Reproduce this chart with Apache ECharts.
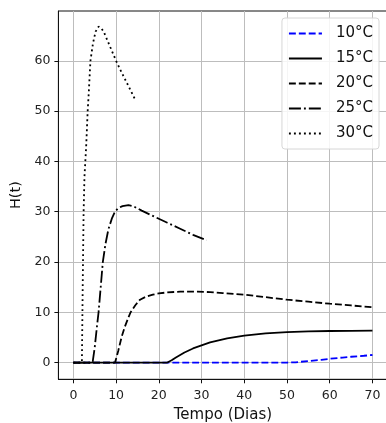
<!DOCTYPE html>
<html>
<head>
<meta charset="utf-8">
<script src="https://cdn.jsdelivr.net/npm/echarts@6/dist/echarts.min.js"></script>
<style>html,body{margin:0;padding:0;background:#fff}#c{width:386px;height:423px}</style>
</head>
<body>
<div id="c"></div>
<script>
const seriesNames = ['10°C', '15°C', '20°C', '25°C', '30°C'];
const xTicks = [0, 10, 20, 30, 40, 50, 60, 70];
const yTicks = [0, 10, 20, 30, 40, 50, 60];

const h10 = [[0,0],[10,0],[20,0],[30,0],[40,0],[50,0],[52,0.05],[55,0.3],[58,0.55],[60,0.75],[63,1.0],[65,1.15],[68,1.35],[70,1.5]];
const h15 = [[0,0],[10,0],[20,0],[22,0],[23,0.45],[24,1.0],[25,1.5],[26,2.0],[28,2.8],[30,3.4],[32,4.0],[34,4.4],[36,4.8],[40,5.35],[45,5.8],[50,6.05],[55,6.2],[60,6.27],[65,6.3],[70,6.33]];
const h20 = [[0,0],[5,0],[9.75,0],[10.5,2.3],[11.3,5.1],[12,7],[13,9.2],[13.4,10],[14.5,11.4],[15.6,12.5],[17,13.1],[18.6,13.5],[20,13.75],[22,13.95],[25,14.1],[29,14.1],[32,14.0],[35,13.8],[40,13.5],[45,13.0],[50,12.5],[55,12.1],[60,11.7],[65,11.35],[70,11.0]];
const h25 = [[0,0],[2,0],[4.5,0],[5,3],[5.5,7],[5.9,10],[6.4,15],[6.9,20],[7.5,23.5],[8.2,26.5],[9,28.6],[9.75,30],[10.5,30.7],[11.5,31.1],[12.9,31.3],[14,31.1],[16,30.2],[18,29.4],[20,28.6],[22,27.8],[25,26.6],[28,25.4],[31.2,24.3]];
const h30 = [[0,0],[1,0],[2,0],[2.2,16],[2.4,30],[2.6,37],[3.0,43],[3.35,50],[3.6,53.5],[4.0,60],[4.6,63.5],[5.2,65.8],[5.9,66.8],[6.5,66.5],[7.1,65.8],[8,64],[8.6,62.8],[9,62],[10,60],[11,58.2],[12,56.5],[13,54.8],[14.5,52.2]];

const fontFam = 'DejaVu Sans';
const chart = echarts.init(document.getElementById('c'), null, {renderer: 'canvas'});

function mk(name, data, color, dash) {
  return {
    name: name, type: 'line', data: data, symbol: 'none', smooth: false,
    lineStyle: {color: color, width: 1.8, type: dash, cap: 'butt'},
    itemStyle: {color: color},
    animation: false
  };
}

chart.setOption({
  animation: false,
  grid: {left: 58.4, top: 11, width: 329, height: 368.3, containLabel: false, outerBoundsMode: 'none',
         show: true, borderColor: '#111', borderWidth: 1, backgroundColor: 'transparent'},
  xAxis: {
    type: 'value', min: -3.5, max: 73.5,
    name: 'Tempo (Dias)', nameLocation: 'middle', nameGap: 28,
    nameTextStyle: {fontFamily: fontFam, fontSize: 15, color: '#111'},
    axisLine: {show: true, onZero: false, lineStyle: {color: '#111', width: 1}},
    axisTick: {show: true, inside: false, length: 4, lineStyle: {color: '#111'}, customValues: xTicks},
    axisLabel: {fontFamily: fontFam, fontSize: 12.5, color: '#222', margin: 10, customValues: xTicks},
    splitLine: {show: true, lineStyle: {color: '#bdbdbd', width: 1}}
  },
  yAxis: {
    type: 'value', min: -3.33, max: 69.9,
    name: 'H(t)', nameLocation: 'middle', nameGap: 28, nameRotate: 90,
    nameTextStyle: {fontFamily: fontFam, fontSize: 14.5, color: '#111'},
    axisLine: {show: true, onZero: false, lineStyle: {color: '#111', width: 1}},
    axisTick: {show: true, inside: false, length: 4, lineStyle: {color: '#111'}, customValues: yTicks},
    axisLabel: {fontFamily: fontFam, fontSize: 12.5, color: '#222', margin: 8, customValues: yTicks},
    splitLine: {show: true, lineStyle: {color: '#bdbdbd', width: 1}}
  },
  legend: {
    orient: 'vertical', right: 7, top: 18,
    data: seriesNames,
    itemWidth: 33, itemHeight: 14, itemGap: 10,
    padding: [8, 6, 8, 6],
    backgroundColor: 'rgba(255,255,255,0.85)',
    borderColor: '#d6d6d6', borderWidth: 1, borderRadius: 3,
    itemStyle: {opacity: 0},
    textStyle: {fontFamily: fontFam, fontSize: 15, color: '#111', padding: [0, 0, 0, 9], lineHeight: 15}
  },
  series: [
    mk(seriesNames[0], h10, '#0000ff', [6.9, 3]),
    mk(seriesNames[1], h15, '#000000', 'solid'),
    mk(seriesNames[2], h20, '#000000', [6.9, 3]),
    mk(seriesNames[3], h25, '#000000', [12, 3, 1.9, 3]),
    mk(seriesNames[4], h30, '#000000', [1.9, 3.1])
  ]
});
</script>
</body>
</html>
